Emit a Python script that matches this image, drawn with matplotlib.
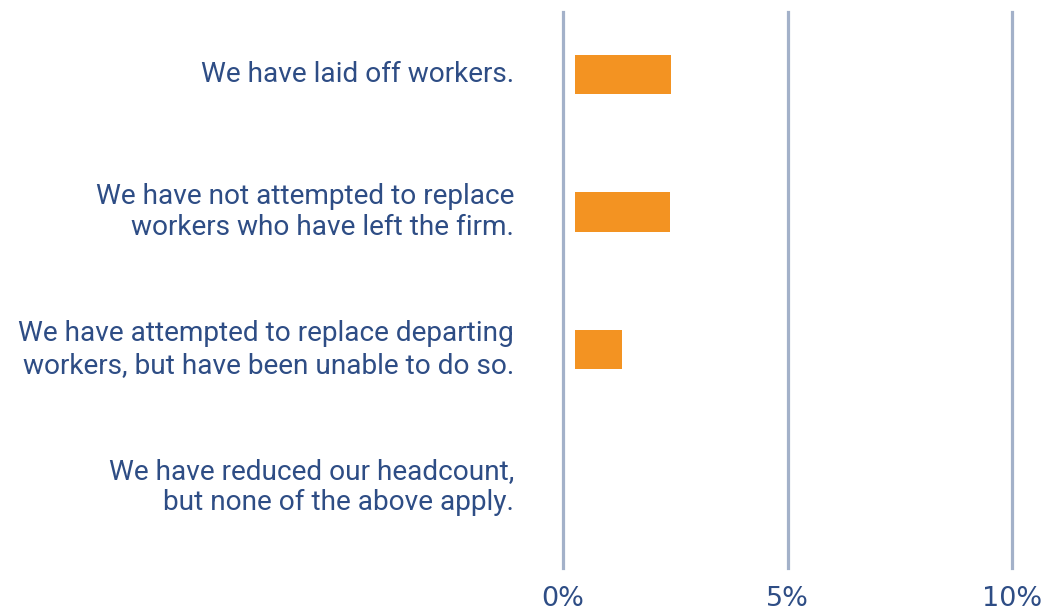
import matplotlib
matplotlib.use("Agg")
import matplotlib.pyplot as plt
from matplotlib import font_manager

categories = [
    "We have laid off workers.",
    "We have not attempted to replace\nworkers who have left the firm.",
    "We have attempted to replace departing\nworkers, but have been unable to do so.",
    "We have reduced our headcount,\nbut none of the above apply.",
]
values = [2.14, 2.12, 1.05, 0.0]
tick_values = [0, 5, 10]
tick_labels = ["0%", "5%", "10%"]

BAR_COLOR = "#f39322"
GRID_COLOR = "#a3b1c9"
TEXT_COLOR = "#2e4d85"
BAR_OFFSET = 0.27  # bars start slightly right of the 0% line

fams = {f.name for f in font_manager.fontManager.ttflist}
family = "Roboto" if "Roboto" in fams else "DejaVu Sans"
plt.rcParams["font.family"] = [family, "DejaVu Sans"]

fig = plt.figure(figsize=(10.5, 6.15), dpi=100)
ax = fig.add_axes([563 / 1050, 47 / 615, 449 / 1050, 556 / 615])

y = list(range(len(categories)))
ax.barh(y, values, left=BAR_OFFSET, height=0.284, color=BAR_COLOR, zorder=3)

ax.set_xlim(0, 10)
ax.set_ylim(3.589, -0.4545)
for t in tick_values:
    ax.axvline(t, color=GRID_COLOR, lw=2.3, zorder=1, clip_on=False)

ax.set_xticks(tick_values)
ax.set_xticklabels(tick_labels, fontsize=19.5, color=TEXT_COLOR,
                   family=["DejaVu Sans"])
ax.tick_params(axis="x", length=0, pad=13)
ax.set_yticks([])
for s in ax.spines.values():
    s.set_visible(False)

for yi, lab in zip(y, categories):
    ax.annotate(lab, xy=(0, yi), xycoords=("axes fraction", "data"),
                xytext=(-49, 0), textcoords="offset pixels",
                ha="right", va="center", multialignment="right",
                fontsize=20.2, color=TEXT_COLOR, fontweight="normal",
                linespacing=1.2)

fig.savefig("out.png", dpi=100)
